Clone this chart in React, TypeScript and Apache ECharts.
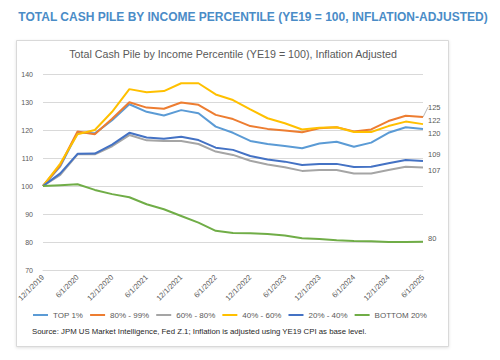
import React, { useEffect, useRef } from "react";
import * as echarts from "echarts";

const quarters = [
  "12/1/2019", "3/1/2020", "6/1/2020", "9/1/2020", "12/1/2020", "3/1/2021", "6/1/2021", "9/1/2021",
  "12/1/2021", "3/1/2022", "6/1/2022", "9/1/2022", "12/1/2022", "3/1/2023", "6/1/2023", "9/1/2023",
  "12/1/2023", "3/1/2024", "6/1/2024", "9/1/2024", "12/1/2024", "3/1/2025", "6/1/2025",
];

const seriesNames = ["TOP 1%", "80% - 99%", "60% - 80%", "40% - 60%", "20% - 40%", "BOTTOM 20%"];

const top1 = [100, 107, 119, 118.8, 123.5, 129.2, 126.5, 125.2, 127.1, 126, 121.2, 119, 116.1, 115, 114.3, 113.5, 115.2, 115.8, 114, 115.5, 119, 121, 120.4];
const p80to99 = [100, 107.5, 119.5, 118.5, 124, 129.9, 128, 127.6, 129.8, 129, 125.4, 123.9, 121.4, 120.4, 119.8, 119.2, 120.6, 121, 119.5, 120.2, 123.2, 125.1, 124.6];
const p60to80 = [100, 104, 111.3, 111.3, 114.2, 118.2, 116.3, 116.1, 116.1, 115, 112.3, 111.1, 109, 107.7, 106.7, 105.4, 105.7, 105.7, 104.5, 104.5, 105.7, 106.9, 106.6];
const p40to60 = [100, 108, 118.5, 120, 126.5, 134.6, 133.5, 133.9, 136.7, 136.7, 132.7, 130.7, 127.4, 124.2, 122.4, 120.2, 120.8, 121, 119.3, 119.3, 121.4, 123, 122.1];
const p20to40 = [100, 104.5, 111.5, 111.6, 114.8, 119, 117.3, 116.9, 117.6, 116.4, 113.7, 112.9, 110.7, 109.5, 108.7, 107.5, 107.9, 107.9, 106.8, 106.9, 108.1, 109.3, 108.9];
const bottom20 = [100, 100.3, 100.6, 98.6, 97.1, 96, 93.5, 91.7, 89.3, 86.9, 84, 83.2, 83.1, 82.9, 82.3, 81.3, 81.1, 80.6, 80.4, 80.3, 80.0, 80.0, 80.1];

const allValues = [top1, p80to99, p60to80, p40to60, p20to40, bottom20];
const colors = ["#5B9BD5", "#ED7D31", "#A5A5A5", "#FFC000", "#4472C4", "#70AD47"];
const labelDy = [4.5, -10, 2.5, -3.5, -7, -3];

const outerTitle = "TOTAL CASH PILE BY INCOME PERCENTILE (YE19 = 100, INFLATION-ADJUSTED)";
const innerTitle = "Total Cash Pile by Income Percentile (YE19 = 100), Inflation Adjusted";
const sourceText = "Source: JPM US Market Intelligence, Fed Z.1; Inflation is adjusted using YE19 CPI as base level.";

const FONT = "Liberation Sans, Arial, sans-serif";

export default function App() {
  const ref = useRef<HTMLDivElement>(null);
  useEffect(() => {
    document.body.style.margin = "0";
    const chart = echarts.init(ref.current!, null, { renderer: "svg" });
    const series = allValues.map((vals, si) => {
      const last = vals.length - 1;
      return {
        name: seriesNames[si],
        type: "line",
        symbol: "circle",
        symbolSize: 0,
        showSymbol: true,
        smooth: false,
        lineStyle: { width: 2, color: colors[si] },
        itemStyle: { color: colors[si] },
        z: 2 + si,
        labelLayout: { dy: labelDy[si] },
        labelLine: { show: si === 1, lineStyle: { color: "#A6A6A6", width: 0.8 }, length2: 0 },
        data: vals.map((v, i) =>
          i === last
            ? {
                value: v,
                label: {
                  show: true,
                  position: "right",
                  distance: 5,
                  color: "#595959",
                  fontSize: 7.5,
                  fontFamily: FONT,
                  formatter: (p: any) => String(Math.round(p.value)),
                },
              }
            : v
        ),
      };
    });

    chart.setOption({
      animation: false,
      backgroundColor: "#ffffff",
      textStyle: { fontFamily: FONT },
      graphic: [
        {
          type: "rect",
          z: -10,
          shape: { x: 16.5, y: 40.5, width: 432, height: 306 },
          style: { fill: "#ffffff", stroke: "#D9D9D9", lineWidth: 1, shadowBlur: 3, shadowColor: "rgba(0,0,0,0.12)", shadowOffsetY: 1 },
        },
        {
          type: "text",
          x: 253,
          y: 17,
          style: {
            text: outerTitle,
            textAlign: "center",
            textVerticalAlign: "middle",
            fill: "#4A8CC7",
            font: `bold 12px ${FONT}`,
          },
        },
        {
          type: "text",
          x: 233,
          y: 54,
          style: {
            text: innerTitle,
            textAlign: "center",
            textVerticalAlign: "middle",
            fill: "#595959",
            font: `10.7px ${FONT}`,
          },
        },
        {
          type: "text",
          x: 32,
          y: 331.5,
          style: {
            text: sourceText,
            textAlign: "left",
            textVerticalAlign: "middle",
            fill: "#262626",
            font: `7.8px ${FONT}`,
          },
        },
      ],
      legend: {
        left: 28,
        top: 306,
        itemWidth: 15,
        itemHeight: 2,
        itemGap: 7,
        icon: "rect",
        textStyle: { color: "#595959", fontSize: 8, fontFamily: FONT },
        data: seriesNames,
      },
      grid: { left: 43, right: 77, top: 74, bottom: 90, containLabel: false },
      xAxis: {
        type: "category",
        data: quarters,
        boundaryGap: false,
        axisLine: { lineStyle: { color: "#D9D9D9" } },
        axisTick: { show: false },
        axisLabel: {
          interval: 1,
          rotate: 45,
          color: "#595959",
          fontSize: 7.5,
          fontFamily: FONT,
          margin: 6,
        },
      },
      yAxis: {
        type: "value",
        min: 70,
        max: 140,
        interval: 10,
        axisLine: { show: false },
        axisTick: { show: false },
        axisLabel: { color: "#595959", fontSize: 7, fontFamily: FONT, margin: 10 },
        splitLine: { lineStyle: { color: "#D9D9D9" } },
      },
      series,
    });
    return () => chart.dispose();
  }, []);
  return <div ref={ref} style={{ width: 500, height: 360 }} />;
}
